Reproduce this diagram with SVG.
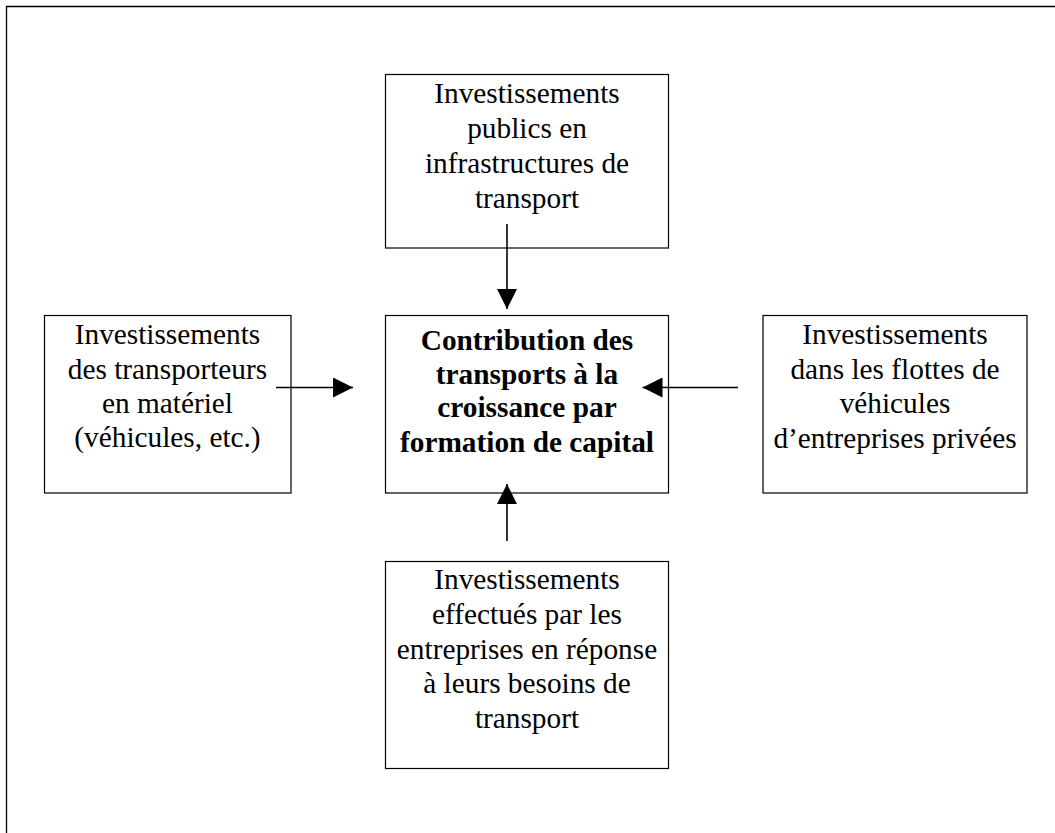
<svg xmlns="http://www.w3.org/2000/svg" width="1055" height="833" viewBox="0 0 1055 833">
<style>
.box{fill:#fff;stroke:#000;stroke-width:1.2}
.t{font-family:"Liberation Serif","Times New Roman",serif;font-size:29.3px;text-anchor:middle;fill:#000}
.b{font-weight:bold}
.c{stroke:#000;stroke-width:1.6;fill:none}
.frame{stroke:#000;stroke-width:1.3;fill:none}
</style>
<defs>
<marker id="ah" markerWidth="20" markerHeight="20" viewBox="0 0 20 20" refX="20" refY="10" orient="auto" markerUnits="userSpaceOnUse">
<path d="M0,0 L20,10 L0,20 Z" fill="#000"/>
</marker>
</defs>
<rect width="1055" height="833" fill="#fff"/>
<g id="frame">
<path class="frame" d="M6.5,833 L6.5,6.5 L1055,6.5"/>
</g>
<g id="top">
<rect class="box" x="385.5" y="74.5" width="283" height="173.5"/>
<text class="t" x="527" y="103.3">Investissements</text>
<text class="t" x="527" y="137.5">publics en</text>
<text class="t" x="527" y="173">infrastructures de</text>
<text class="t" x="527" y="207.7">transport</text>
</g>
<g id="center">
<rect class="box" x="385.5" y="315.5" width="283" height="177.5"/>
<text class="t b" x="527" y="350">Contribution des</text>
<text class="t b" x="527" y="383.5">transports à la</text>
<text class="t b" x="527" y="417">croissance par</text>
<text class="t b" x="527" y="451.5">formation de capital</text>
</g>
<g id="left">
<rect class="box" x="44.5" y="315.5" width="246.5" height="177.5"/>
<text class="t" x="167.5" y="344.3">Investissements</text>
<text class="t" x="167.5" y="379">des transporteurs</text>
<text class="t" x="167.5" y="413.3">en matériel</text>
<text class="t" x="167.5" y="447">(véhicules, etc.)</text>
</g>
<g id="right">
<rect class="box" x="763" y="315.5" width="264" height="177.5"/>
<text class="t" x="895" y="344.3">Investissements</text>
<text class="t" x="895" y="379">dans les flottes de</text>
<text class="t" x="895" y="413.3">véhicules</text>
<text class="t" x="895" y="447.7">d’entreprises privées</text>
</g>
<g id="bottom">
<rect class="box" x="385.5" y="561.5" width="283" height="207"/>
<text class="t" x="527" y="589.3">Investissements</text>
<text class="t" x="527" y="624">effectués par les</text>
<text class="t" x="527" y="658.5">entreprises en réponse</text>
<text class="t" x="527" y="693.3">à leurs besoins de</text>
<text class="t" x="527" y="728.3">transport</text>
</g>
<g id="connectors">
<line class="c" x1="507" y1="224" x2="507" y2="309" marker-end="url(#ah)"/>
<line class="c" x1="276" y1="387.5" x2="353" y2="387.5" marker-end="url(#ah)"/>
<line class="c" x1="738" y1="387.5" x2="642.5" y2="387.5" marker-end="url(#ah)"/>
<line class="c" x1="507" y1="541" x2="507" y2="484" marker-end="url(#ah)"/>
</g>
</svg>
